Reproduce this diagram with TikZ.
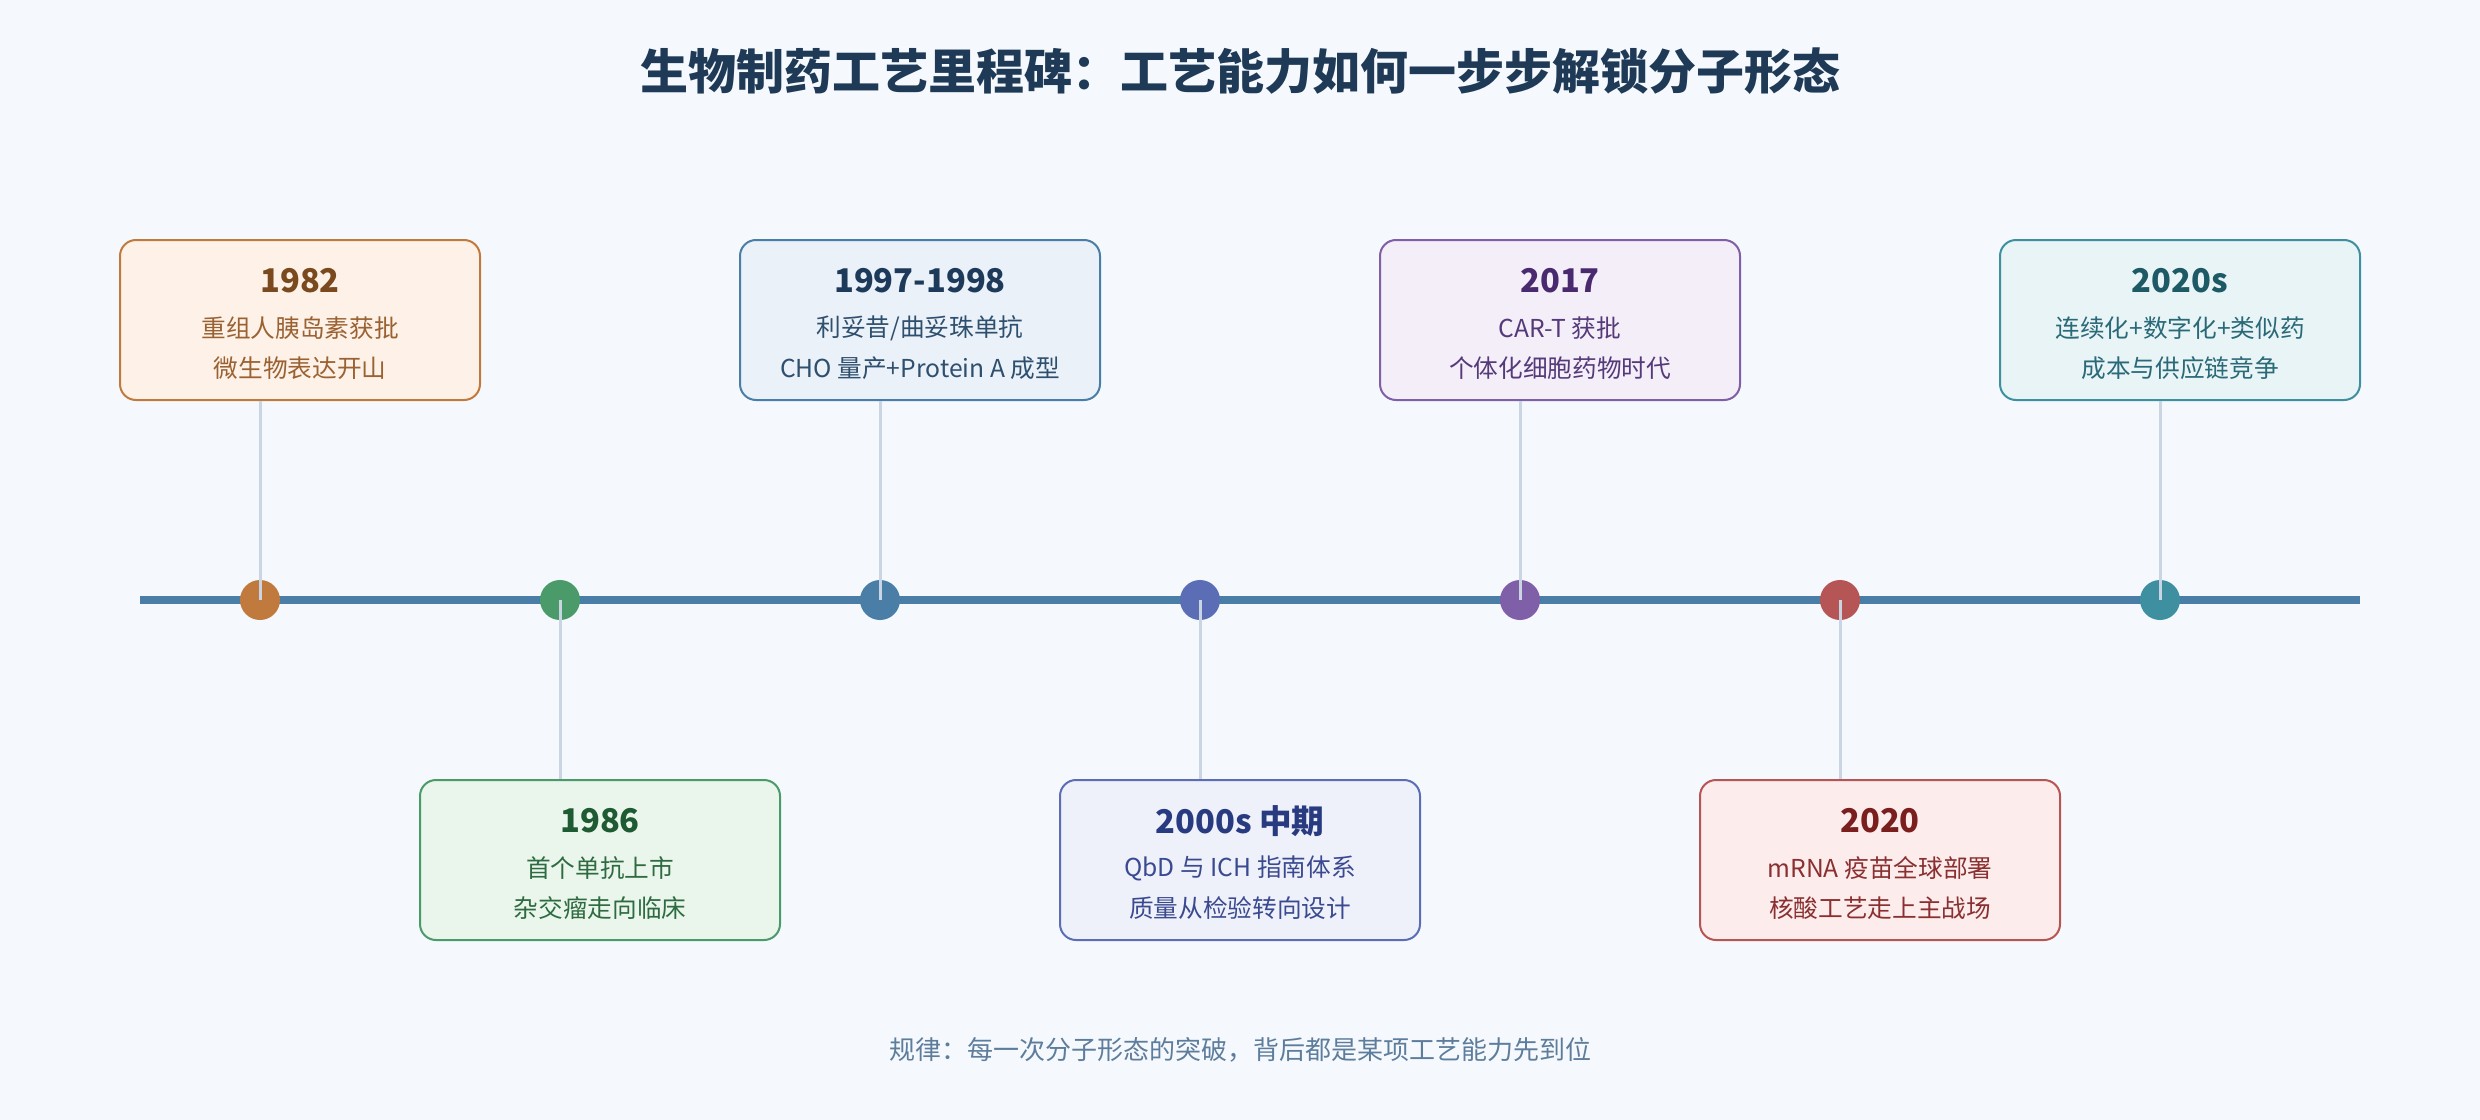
\documentclass[tikz,border=0pt]{standalone}
\usepackage{fontspec}
\setmainfont{Noto Sans CJK SC}
\usetikzlibrary{calc}
\definecolor{bgc}{HTML}{F5F9FD}
\definecolor{linec}{HTML}{4A7EA6}
\definecolor{connc}{HTML}{C9D5E2}
\definecolor{titlec}{HTML}{1F3A56}
\definecolor{footc}{HTML}{5E7D9C}
% 1982
\definecolor{aM}{HTML}{C07A3E}\definecolor{aF}{HTML}{FEF1E7}\definecolor{aY}{HTML}{7A4A1E}\definecolor{aT}{HTML}{9A6232}
% 1986
\definecolor{bM}{HTML}{4A9A6A}\definecolor{bF}{HTML}{EAF6EC}\definecolor{bY}{HTML}{1E5A32}\definecolor{bT}{HTML}{2E6B40}
% 1997
\definecolor{cM}{HTML}{4A7EA6}\definecolor{cF}{HTML}{EAF1F8}\definecolor{cY}{HTML}{1E3A5A}\definecolor{cT}{HTML}{2E4F6E}
% 2000s
\definecolor{dM}{HTML}{5B6DB5}\definecolor{dF}{HTML}{EFF1FA}\definecolor{dY}{HTML}{283A80}\definecolor{dT}{HTML}{3A4A90}
% 2017
\definecolor{eM}{HTML}{7E5FA8}\definecolor{eF}{HTML}{F4EEF9}\definecolor{eY}{HTML}{4A2A6E}\definecolor{eT}{HTML}{553A7A}
% 2020
\definecolor{fM}{HTML}{B55555}\definecolor{fF}{HTML}{FCECEC}\definecolor{fY}{HTML}{7A1E1E}\definecolor{fT}{HTML}{8A3030}
% 2020s
\definecolor{gM}{HTML}{3E8FA0}\definecolor{gF}{HTML}{E9F4F6}\definecolor{gY}{HTML}{1E5A66}\definecolor{gT}{HTML}{2A6A78}
\begin{document}
\begin{tikzpicture}[x=0.75pt,y=-0.75pt,
  evbox/.style={draw, line width=1.5pt, rounded corners=12pt, minimum width=270pt, minimum height=120pt, inner sep=0pt},
  dot/.style={circle, minimum size=30pt, inner sep=0pt},
  conn/.style={draw=connc, line width=2.25pt},
  yeartxt/.style={inner sep=0pt, font=\fontsize{24.5pt}{30pt}\selectfont\bfseries},
  bodytxt/.style={inner sep=0pt, font=\fontsize{18.5pt}{22pt}\selectfont},
  titletxt/.style={inner sep=0pt, text=titlec, font=\fontsize{36pt}{42pt}\selectfont\bfseries},
  foottxt/.style={inner sep=0pt, text=footc, font=\fontsize{19.5pt}{24pt}\selectfont}
]
\fill[bgc] (0,0) rectangle (2480,1120);
\useasboundingbox (0,0) rectangle (2480,1120);

\node[titletxt] (title) at (1240,71) {生物制药工艺里程碑：工艺能力如何一步步解锁分子形态};

% timeline
\coordinate (tl) at (140,600);
\coordinate (tr) at (2360,600);
\draw[linec, line width=6pt] (tl) -- (tr);

% dots
\node[dot, fill=aM] (d1) at (260,600) {};
\node[dot, fill=bM] (d2) at (560,600) {};
\node[dot, fill=cM] (d3) at (880,600) {};
\node[dot, fill=dM] (d4) at (1200,600) {};
\node[dot, fill=eM] (d5) at (1520,600) {};
\node[dot, fill=fM] (d6) at (1840,600) {};
\node[dot, fill=gM] (d7) at (2160,600) {};

% boxes
\node[evbox, draw=aM, fill=aF] (b1) at (300,320) {};
\node[evbox, draw=bM, fill=bF] (b2) at (600,860) {};
\node[evbox, draw=cM, fill=cF] (b3) at (920,320) {};
\node[evbox, draw=dM, fill=dF] (b4) at (1240,860) {};
\node[evbox, draw=eM, fill=eF] (b5) at (1560,320) {};
\node[evbox, draw=fM, fill=fF] (b6) at (1880,860) {};
\node[evbox, draw=gM, fill=gF] (b7) at (2180,320) {};

% connectors
\draw[conn] (b1.south -| d1.center) -- (d1.center);
\draw[conn] (d2.center) -- (d2.center |- b2.north);
\draw[conn] (b3.south -| d3.center) -- (d3.center);
\draw[conn] (d4.center) -- (d4.center |- b4.north);
\draw[conn] (b5.south -| d5.center) -- (d5.center);
\draw[conn] (d6.center) -- (d6.center |- b6.north);
\draw[conn] (b7.south -| d7.center) -- (d7.center);

% texts
\node[yeartxt, text=aY] (y1) at ($(b1.center)+(0,-39)$) {1982};
\node[bodytxt, text=aT] (s1a) at ($(b1.center)+(0,8)$) {重组人胰岛素获批};
\node[bodytxt, text=aT] (s1b) at ($(b1.center)+(0,48)$) {微生物表达开山};

\node[yeartxt, text=bY] (y2) at ($(b2.center)+(0,-39)$) {1986};
\node[bodytxt, text=bT] (s2a) at ($(b2.center)+(0,8)$) {首个单抗上市};
\node[bodytxt, text=bT] (s2b) at ($(b2.center)+(0,48)$) {杂交瘤走向临床};

\node[yeartxt, text=cY] (y3) at ($(b3.center)+(0,-39)$) {1997-1998};
\node[bodytxt, text=cT] (s3a) at ($(b3.center)+(0,8)$) {利妥昔/曲妥珠单抗};
\node[bodytxt, text=cT] (s3b) at ($(b3.center)+(0,48)$) {CHO 量产+Protein A 成型};

\node[yeartxt, text=dY] (y4) at ($(b4.center)+(0,-39)$) {2000s 中期};
\node[bodytxt, text=dT] (s4a) at ($(b4.center)+(0,8)$) {QbD 与 ICH 指南体系};
\node[bodytxt, text=dT] (s4b) at ($(b4.center)+(0,48)$) {质量从检验转向设计};

\node[yeartxt, text=eY] (y5) at ($(b5.center)+(0,-39)$) {2017};
\node[bodytxt, text=eT] (s5a) at ($(b5.center)+(0,8)$) {CAR-T 获批};
\node[bodytxt, text=eT] (s5b) at ($(b5.center)+(0,48)$) {个体化细胞药物时代};

\node[yeartxt, text=fY] (y6) at ($(b6.center)+(0,-39)$) {2020};
\node[bodytxt, text=fT] (s6a) at ($(b6.center)+(0,8)$) {mRNA 疫苗全球部署};
\node[bodytxt, text=fT] (s6b) at ($(b6.center)+(0,48)$) {核酸工艺走上主战场};

\node[yeartxt, text=gY] (y7) at ($(b7.center)+(0,-39)$) {2020s};
\node[bodytxt, text=gT] (s7a) at ($(b7.center)+(0,8)$) {连续化+数字化+类似药};
\node[bodytxt, text=gT] (s7b) at ($(b7.center)+(0,48)$) {成本与供应链竞争};

\node[foottxt] (foot) at (1240,1050) {规律：每一次分子形态的突破，背后都是某项工艺能力先到位};
\end{tikzpicture}
\end{document}
